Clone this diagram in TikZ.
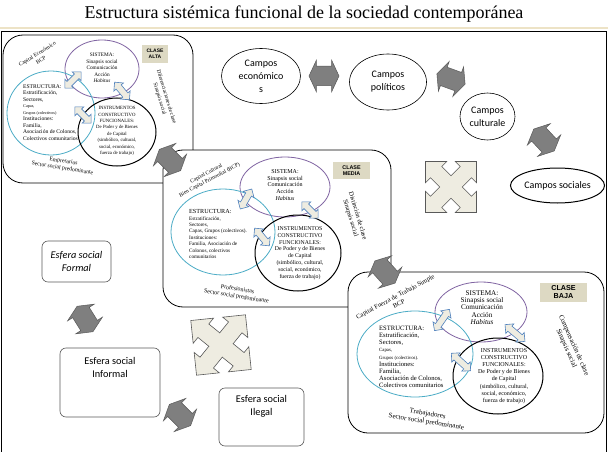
\documentclass[tikz,border=0pt]{standalone}
\usepackage{fontspec}
\setmainfont{Liberation Serif}
\newfontfamily\boxfont{Carlito}
\newfontfamily\tagfont{Liberation Sans}
\usepackage{tikz}
\usetikzlibrary{shapes.geometric,shapes.arrows}
\definecolor{sisPurple}{HTML}{8064A2}
\definecolor{estCyan}{HTML}{4BACC6}
\definecolor{linkBlue}{HTML}{4F81BD}
\definecolor{paleFill}{HTML}{EEECE1}
\definecolor{tagBeige}{HTML}{DDD9C3}
\definecolor{arrowGray}{HTML}{7F7F7F}
\definecolor{edgeGray}{HTML}{595959}
\definecolor{tanLine}{HTML}{EDE3C6}
\newcommand{\setfs}[2]{\fontsize{#1}{#2}\selectfont}

\begin{document}
\begin{tikzpicture}[x=1pt, y=-1pt,
  classbox/.style={draw=black, fill=white, line width=0.8pt, rounded corners=20pt},
  sis/.style={ellipse, draw=sisPurple, line width=0.8pt, inner sep=0pt},
  est/.style={ellipse, draw=estCyan, line width=0.8pt, inner sep=0pt},
  ins/.style={ellipse, draw=black, line width=1pt, inner sep=0pt},
  txt/.style={align=center, inner sep=0pt},
  ltxt/.style={align=left, inner sep=0pt, anchor=west},
  tag/.style={fill=tagBeige, align=center, inner sep=0pt, font=\tagfont\bfseries},
  link/.style={double arrow, draw=linkBlue, fill=paleFill, line width=0.6pt,
    double arrow head extend=3pt, double arrow tip angle=90,
    inner xsep=0pt, inner ysep=3pt, minimum height=23pt},
  swap/.style={double arrow, draw=edgeGray, fill=arrowGray, line width=0.5pt,
    double arrow head extend=6pt, double arrow tip angle=130,
    inner xsep=0pt, inner ysep=9.5pt, minimum height=30pt},
  campo/.style={ellipse, draw=black, line width=0.6pt, inner sep=0pt, align=center,
    font=\boxfont\setfs{10}{13}},
  esfera/.style={draw=edgeGray, rounded corners=6pt, line width=0.6pt},
  esftxt/.style={align=center, inner sep=0pt, font=\boxfont\setfs{10.3}{13}},
  pics/quadarrow/.style={code={
    \draw[draw=edgeGray, fill=paleFill, line width=0.6pt]
      (36,0) -- (21,15) -- (21,8) -- (8,8) -- (8,21) -- (15,21) -- (0,36)
      -- (-15,21) -- (-8,21) -- (-8,8) -- (-21,8) -- (-21,15) -- (-36,0)
      -- (-21,-15) -- (-21,-8) -- (-8,-8) -- (-8,-21) -- (-15,-21) -- (0,-36)
      -- (15,-21) -- (8,-21) -- (8,-8) -- (21,-8) -- (21,-15) -- cycle;
  }},
]
\useasboundingbox (0,0) rectangle (608,452);

% Title and frame
\node[font=\setfs{18}{22}] (title) at (304,14) {Estructura sistémica funcional de la sociedad contemporánea};
\draw[tanLine, line width=1.2pt] (0,28) -- (608,28);
\draw[line width=0.8pt] (1.5,470) -- (1.5,31) -- (606.5,31) -- (606.5,470);

% Clase alta
\node[classbox, minimum width=190pt, minimum height=148pt] (alta) at (98,109) {};
\node[sis, minimum width=74pt, minimum height=58pt] (sisA) at (102,69) {};
\node[est, minimum width=88pt, minimum height=84pt] (estA) at (51,113) {};
\node[ins, minimum width=78pt, minimum height=68pt] (insA) at (117,132) {};
\node[txt, font=\setfs{5.3}{6.4}] (sisAtxt) at (102,68) {SISTEMA:\\Sinapsis social\\Comunicación\\Acción\\\textit{Habitus}};
\node[ltxt, font=\setfs{5.6}{6.5}] (estAtxt) at (23,112.5) {ESTRUCTURA:\\Estratificación,\\Sectores,\\{\setfs{4.2}{5}Capas,}\\{\setfs{4.2}{5}Grupos (colectivos)}\\Instituciones:\\Familia,\\Asociación de Colonos,\\Colectivos comunitarios};
\node[txt, font=\setfs{4.8}{6.4}] (insAtxt) at (117,131) {INSTRUMENTOS\\CONSTRUCTIVO\\FUNCIONALES:\\De Poder y de Bienes\\de Capital\\(simbólico, cultural,\\social, económico,\\fuerza de trabajo)};
\node[tag, minimum width=26pt, minimum height=18pt, font=\tagfont\bfseries\setfs{5}{6}] (tagA) at (155,54) {CLASE\\ALTA};
\node[txt, rotate=32, font=\setfs{5.5}{7}] (capA) at (39,57) {Capital Económico\\BCP};
\node[txt, rotate=-73, font=\setfs{5.5}{7}] (difA) at (163,98) {Diferenciaciones de clase\\Sinapsis social};
\node[txt, rotate=-9, font=\setfs{5.7}{7}] (empA) at (63,165) {Empresarios\\Sector social predominante};
\node[link, rotate=45] (lnkA1) at (73,80) {};
\node[link, rotate=-50] (lnkA2) at (122,91) {};
\node[link, rotate=-45] (lnkA3) at (83,115) {};

% Clase media
\node[classbox, minimum width=228pt, minimum height=157pt] (media) at (277,228.5) {};
\node[sis, minimum width=90pt, minimum height=60pt] (sisM) at (285,187) {};
\node[est, minimum width=104pt, minimum height=86pt] (estM) at (223,232) {};
\node[ins, minimum width=86pt, minimum height=76pt] (insM) at (298,253) {};
\node[txt, font=\setfs{6}{6.9}] (sisMtxt) at (285,185) {SISTEMA:\\Sinapsis social\\Comunicación\\Acción\\\textit{Habitus}};
\node[ltxt, font=\setfs{5.2}{6.4}] (estMtxt) at (189,234) {{\setfs{6.2}{7}ESTRUCTURA:}\\Estratificación,\\Sectores,\\Capas, Grupos (colectivos).\\Instituciones:\\Familia, Asociación de\\Colonos, colectivos\\comunitarios};
\node[txt, font=\setfs{5.8}{6.8}] (insMtxt) at (300,253) {INSTRUMENTOS\\CONSTRUCTIVO\\FUNCIONALES:\\De Poder y de Bienes\\de Capital\\(simbólico, cultural,\\social, económico,\\fuerza de trabajo)};
\node[tag, minimum width=37pt, minimum height=17pt, font=\tagfont\bfseries\setfs{5.4}{6.2}] (tagM) at (351.5,170.5) {CLASE\\MEDIA};
\node[txt, rotate=28, font=\setfs{5.5}{7}] (capM) at (208,177) {Capital Cultural\\Bien Capital Primordial (BCP)};
\node[txt, rotate=-73, font=\setfs{6.5}{7.5}] (disM) at (354,217) {Distinción de clase\\Sinapsis social};
\node[txt, rotate=-9, font=\setfs{6}{7.2}] (proM) at (237,293) {Profesionistas\\Sector social predominante};
\node[link, rotate=60] (lnkM1) at (246,199) {};
\node[link, rotate=-45] (lnkM2) at (310,210) {};
\node[link, rotate=-50] (lnkM3) at (262,237) {};

% Clase baja
\node[classbox, minimum width=256pt, minimum height=161pt] (baja) at (476,352.5) {};
\node[sis, minimum width=92pt, minimum height=60pt] (sisB) at (481,312) {};
\node[est, minimum width=116pt, minimum height=86pt] (estB) at (415,354) {};
\node[ins, minimum width=90pt, minimum height=76pt] (insB) at (498,376) {};
\node[txt, font=\setfs{7.2}{7.4}] (sisBtxt) at (482,307.5) {SISTEMA:\\Sinapsis social\\Comunicación\\Acción\\\textit{Habitus}};
\node[ltxt, font=\setfs{6.6}{7.2}] (estBtxt) at (379,357) {ESTRUCTURA:\\Estratificación,\\Sectores,\\{\setfs{4.8}{5.5}Capas,}\\{\setfs{4.8}{5.5}Grupos (colectivos).}\\Instituciones:\\Familia,\\Asociación de Colonos,\\Colectivos comunitarios};
\node[txt, font=\setfs{6}{7.1}] (insBtxt) at (504,376) {INSTRUMENTOS\\CONSTRUCTIVO\\FUNCIONALES:\\De Poder y de Bienes\\de Capital\\(simbólico, cultural,\\social, económico,\\fuerza de trabajo)};
\node[tag, minimum width=47pt, minimum height=19pt, font=\tagfont\bfseries\setfs{7.2}{8}] (tagB) at (563.5,292.5) {CLASE\\BAJA};
\node[txt, rotate=28, font=\setfs{6.5}{7.5}] (capB) at (397,300) {Capital Fuerza de Trabajo Simple\\BCP};
\node[txt, rotate=-66, font=\setfs{7}{8}] (comB) at (570,347) {Compensación de clase\\Sinapsis social};
\node[txt, rotate=-9, font=\setfs{7}{8}] (traB) at (427,418) {Trabajadores\\Sector social predominante};
\node[link, rotate=55, minimum height=26pt] (lnkB1) at (442,320) {};
\node[link, rotate=-40, minimum height=26pt] (lnkB2) at (515,333) {};
\node[link, rotate=-42, minimum height=26pt] (lnkB3) at (461,362) {};

% Campos
\node[campo, minimum width=79pt, minimum height=55pt] (ceco) at (261,76) {Campos\\económico\\s};
\node[campo, minimum width=77pt, minimum height=56pt] (cpol) at (388,82) {Campos\\políticos};
\node[campo, minimum width=55pt, minimum height=47pt] (ccul) at (487.5,116.5) {Campos\\culturale};
\node[campo, line width=1pt, minimum width=85pt, minimum height=35pt] (csoc) at (557.5,185.5) {Campos sociales};

% Esferas
\node[esfera, minimum width=69pt, minimum height=41pt] (formal) at (76.5,261.5) {};
\node[esftxt, font=\boxfont\itshape\setfs{10.3}{13}] (formalTxt) at (formal) {Esfera social\\Formal};
\node[esfera, minimum width=100pt, minimum height=69pt] (informal) at (110,382.5) {};
\node[esftxt] (informalTxt) at (110,367.5) {Esfera social\\Informal};
\node[esfera, minimum width=85pt, minimum height=58pt] (ilegal) at (261.5,417) {};
\node[esftxt] (ilegalTxt) at (261.5,406) {Esfera social\\Ilegal};

% Grey exchange arrows
\node[swap] (swEP) at (324,76) {};
\node[swap, rotate=-20] (swPC) at (451,79) {};
\node[swap, rotate=-47] (swCS) at (544,140) {};
\node[swap, rotate=-45] (swAM) at (170,160) {};
\node[swap, rotate=-48] (swMB) at (385,272) {};
\node[swap, rotate=-58] (swFI) at (85,319) {};
\node[swap, rotate=-45] (swIL) at (180,415) {};

% Four-way arrows
\pic[rotate=45] (quadR) at (451,187) {quadarrow};
\pic[rotate=51, scale=1.08] (quadL) at (221,345) {quadarrow};

\end{tikzpicture}
\end{document}
